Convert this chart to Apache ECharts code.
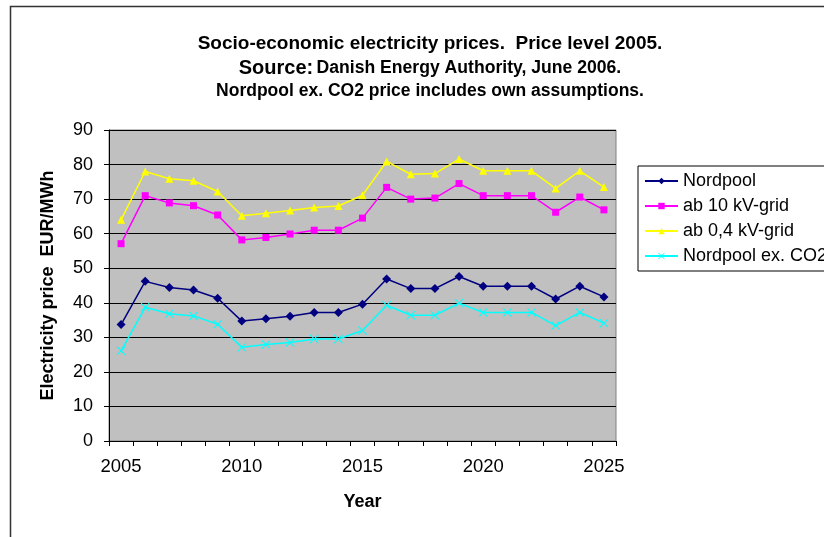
<!DOCTYPE html>
<html>
<head>
<meta charset="utf-8">
<script src="https://cdn.jsdelivr.net/npm/echarts@6/dist/echarts.min.js"></script>
<style>
  html, body { margin: 0; padding: 0; background: #fff; }
  #chart { width: 824px; height: 537px; }
</style>
</head>
<body>
<div id="chart"></div>
<script>
  // years on the category axis
  var years = ['2005','2006','2007','2008','2009','2010','2011','2012','2013','2014','2015',
               '2016','2017','2018','2019','2020','2021','2022','2023','2024','2025']

  // EUR/MWh
  var nordpool = [33.7, 46.2, 44.4, 43.7, 41.3, 34.7, 35.4, 36.1, 37.2, 37.2, 39.6,
                  46.9, 44.1, 44.1, 47.6, 44.8, 44.8, 44.8, 41.1, 44.8, 41.7]
  var ab10 = [57.1, 71.0, 68.9, 68.1, 65.4, 58.2, 58.9, 59.9, 61.0, 61.0, 64.5,
              73.4, 70.0, 70.3, 74.5, 71.0, 71.0, 71.0, 66.2, 70.6, 66.9]
  var ab04 = [64.0, 78.0, 75.9, 75.3, 72.2, 65.2, 65.9, 66.7, 67.6, 68.0, 71.1,
              80.9, 77.2, 77.4, 81.6, 78.2, 78.2, 78.2, 73.1, 78.2, 73.5]
  var nordpoolExCO2 = [26.1, 38.7, 36.8, 36.2, 33.8, 27.1, 27.9, 28.5, 29.5, 29.5, 32.0,
                       39.3, 36.4, 36.4, 39.9, 37.2, 37.2, 37.2, 33.4, 37.2, 34.1]

  var font = '"Liberation Sans", Arial, sans-serif'
  // thin x marker, like the excel one
  var crossSymbol = 'path://M0,0.8L0.8,0L5,4.2L9.2,0L10,0.8L5.8,5L10,9.2L9.2,10L5,5.8L0.8,10L0,9.2L4.2,5Z'

  function lineSeries(name, data, color, symbol, size) {
    return {
      name: name,
      type: 'line',
      data: data,
      symbol: symbol,
      symbolSize: size,
      showAllSymbol: true,
      lineStyle: { color: color, width: 1.5 },
      itemStyle: { color: color },
      emphasis: { disabled: true },
      animation: false
    }
  }

  var chart = echarts.init(document.getElementById('chart'))
  var option = {
    backgroundColor: '#fff',
    textStyle: { fontFamily: font },
    graphic: [
      // outer chart frame
      { type: 'rect', shape: { x: 10.5, y: 6.5, width: 900, height: 600 },
        style: { fill: 'none', stroke: '#333', lineWidth: 1.5 } },
      { type: 'text', style: { x: 430, y: 44, text: 'Socio-economic electricity prices.  Price level 2005.',
        align: 'center', verticalAlign: 'middle', font: 'bold 19px ' + font, fill: '#000' } },
      { type: 'text', style: { x: 430, y: 68, text: '{s|Source:} {t|Danish Energy Authority, June 2006.}',
        align: 'center', verticalAlign: 'middle', fill: '#000',
        rich: {
          s: { fontFamily: font, fontWeight: 'bold', fontSize: 20, fill: '#000' },
          t: { fontFamily: font, fontWeight: 'bold', fontSize: 17.6, fill: '#000' }
        } } },
      { type: 'text', style: { x: 430, y: 91, text: 'Nordpool ex. CO2 price includes own assumptions.',
        align: 'center', verticalAlign: 'middle', font: 'bold 17.5px ' + font, fill: '#000' } }
    ],
    legend: {
      orient: 'vertical',
      left: 638,
      top: 166,
      padding: [6, 10, 6, 6],
      itemWidth: 33,
      itemHeight: 8,
      itemGap: 7,
      borderColor: '#000',
      borderWidth: 1,
      textStyle: { fontSize: 18, color: '#000', fontFamily: font },
      data: ['Nordpool', 'ab 10 kV-grid', 'ab 0,4 kV-grid', 'Nordpool ex. CO2']
    },
    grid: {
      left: 109,
      right: 208,
      top: 130,
      bottom: 96,
      show: true,
      backgroundColor: '#C0C0C0',
      borderColor: '#808080',
      borderWidth: 1
    },
    xAxis: {
      type: 'category',
      data: years,
      boundaryGap: true,
      name: 'Year',
      nameLocation: 'middle',
      nameGap: 52,
      nameTextStyle: { fontSize: 18, fontWeight: 'bold', color: '#000', fontFamily: font },
      axisLine: { lineStyle: { color: '#000', width: 1 } },
      axisTick: { show: true, interval: 0, length: 5, alignWithLabel: false, lineStyle: { color: '#000' } },
      axisLabel: { interval: 4, fontSize: 18.5, color: '#000', margin: 16, fontFamily: font },
      splitLine: { show: false }
    },
    yAxis: {
      type: 'value',
      min: 0,
      max: 90,
      interval: 10,
      name: 'Electricity price  EUR/MWh',
      nameLocation: 'middle',
      nameGap: 52,
      nameTextStyle: { fontSize: 18, fontWeight: 'bold', color: '#000', fontFamily: font },
      axisLine: { show: true, lineStyle: { color: '#000', width: 1 } },
      axisTick: { show: true, length: 5, lineStyle: { color: '#000' } },
      axisLabel: { fontSize: 18, color: '#000', margin: 16, fontFamily: font },
      splitLine: { show: true, lineStyle: { color: '#000', width: 1 } }
    },
    series: [
      lineSeries('Nordpool', nordpool, '#000080', 'diamond', 9),
      lineSeries('ab 10 kV-grid', ab10, '#FF00FF', 'rect', 7),
      lineSeries('ab 0,4 kV-grid', ab04, '#FFFF00', 'triangle', 8),
      lineSeries('Nordpool ex. CO2', nordpoolExCO2, '#00FFFF', crossSymbol, 9)
    ]
  }
  chart.setOption(option)
</script>
</body>
</html>
